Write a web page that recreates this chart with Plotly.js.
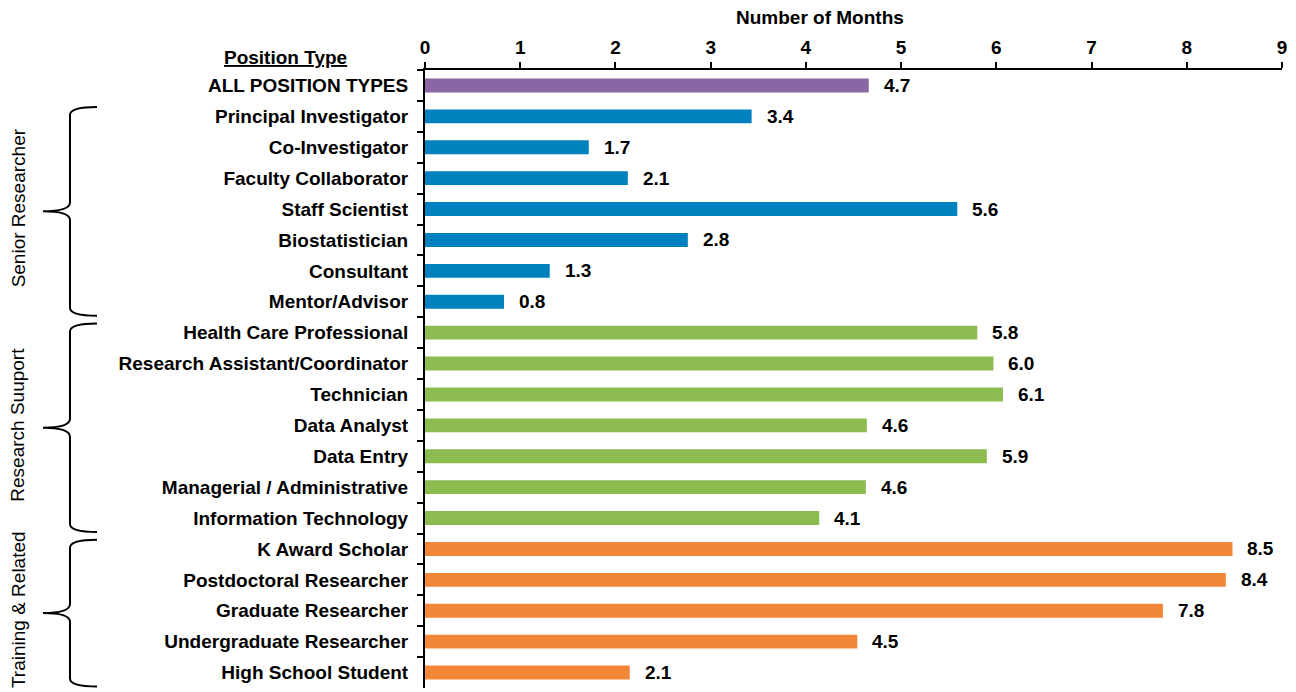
<!DOCTYPE html>
<html><head><meta charset="utf-8">
<script src="https://cdn.plot.ly/plotly-3.0.1.min.js"></script>
<style>body{margin:0;background:#fff}#chart{width:1296px;height:692px}</style>
</head><body><div id="chart"></div>
<script>
var categories = ["ALL POSITION TYPES","Principal Investigator","Co-Investigator","Faculty Collaborator","Staff Scientist","Biostatistician","Consultant","Mentor/Advisor","Health Care Professional","Research Assistant/Coordinator","Technician","Data Analyst","Data Entry","Managerial / Administrative","Information Technology","K Award Scholar","Postdoctoral Researcher","Graduate Researcher","Undergraduate Researcher","High School Student"];
var values = [4.66,3.43,1.72,2.13,5.59,2.76,1.31,0.83,5.80,5.97,6.07,4.64,5.90,4.63,4.14,8.48,8.41,7.75,4.54,2.15];
var groups = ["All","Senior","Senior","Senior","Senior","Senior","Senior","Senior","Support","Support","Support","Support","Support","Support","Support","Training","Training","Training","Training","Training"];
var groupNames = ["Senior Researcher","Research Suuport","Training & Related"];
var groupColors = {All:"#8B66A4", Senior:"#0081BF", Support:"#8CBB50", Training:"#F38738"};
var xTicks = [0,1,2,3,4,5,6,7,8,9];

var W=1296,H=692,L=425,R=14,T=70,B=4;
var pw=W-L-R, ph=H-T-B;
function px2x(p){return (p-L)/pw;}
function py2y(p){return (H-B-p)/ph;}
var rowH = ph/categories.length;
function rowCenter(i){return T+(i+0.5)*rowH;}

var font="Liberation Sans, Arial, sans-serif";
var trace={type:"bar",orientation:"h",y:categories,x:values,width:0.45,
  marker:{color:groups.map(function(g){return groupColors[g];})},hoverinfo:"x+y"};

var annotations = values.map(function(v,i){
  return {x:v,y:categories[i],xref:"x",yref:"y",text:v.toFixed(1),showarrow:false,
    xanchor:"left",xshift:13,font:{family:font,size:19,color:"#000",weight:700}};
});
annotations.push({xref:"paper",yref:"paper",x:px2x(820),y:py2y(18),text:"Number of Months",showarrow:false,
  xanchor:"center",yanchor:"middle",font:{family:font,size:19,color:"#000",weight:700}});
annotations.push({xref:"paper",yref:"paper",x:px2x(285),y:py2y(57),text:"<u>Position Type</u>",showarrow:false,
  xanchor:"center",yanchor:"middle",font:{family:font,size:19,color:"#000",weight:700}});

// group brackets: [first row, last row]
var spans=[[1,7],[8,14],[15,19]];
var shapes=[];
spans.forEach(function(s,k){
  var top=rowCenter(s[0])-rowH*0.3, bot=rowCenter(s[1])+rowH*0.45;
  var mid=(top+bot)/2;
  var xe=97, xv=70, xt=43;
  function P(x,y){return px2x(x).toFixed(5)+","+py2y(y).toFixed(5);}
  var d="M"+P(xe,top)+" Q"+P(xv,top)+" "+P(xv,top+8)+" L"+P(xv,mid-9)+" Q"+P(xv,mid)+" "+P(xt,mid)+
        " Q"+P(xv,mid)+" "+P(xv,mid+9)+" L"+P(xv,bot-8)+" Q"+P(xv,bot)+" "+P(xe,bot);
  shapes.push({type:"path",xref:"paper",yref:"paper",path:d,line:{color:"#000",width:2}});
  annotations.push({xref:"paper",yref:"paper",x:px2x(18),y:py2y(mid-3),text:groupNames[k],textangle:-90,showarrow:false,
    xanchor:"center",yanchor:"middle",font:{family:font,size:19,color:"#000"}});
});

var layout={width:W,height:H,margin:{l:L,r:R,t:T,b:B},paper_bgcolor:"#fff",plot_bgcolor:"#fff",
  showlegend:false,bargap:0.55,
  xaxis:{side:"top",range:[0,9],tickvals:xTicks,ticktext:xTicks.map(String),showgrid:false,zeroline:false,
    showline:true,linecolor:"#000",linewidth:2,ticks:"outside",ticklen:6,tickwidth:2,tickcolor:"#000",
    tickfont:{family:font,size:19,color:"#000",weight:700},fixedrange:true},
  yaxis:{autorange:"reversed",showgrid:false,zeroline:false,showline:true,linecolor:"#000",linewidth:2,
    ticks:"outside",ticklen:6,tickwidth:2,tickcolor:"#000",tickson:"boundaries",ticklabelstandoff:11,
    tickfont:{family:font,size:19,color:"#000",weight:700},fixedrange:true},
  annotations:annotations,shapes:shapes};
Plotly.newPlot("chart",[trace],layout,{displayModeBar:false,staticPlot:true});
</script></body></html>
